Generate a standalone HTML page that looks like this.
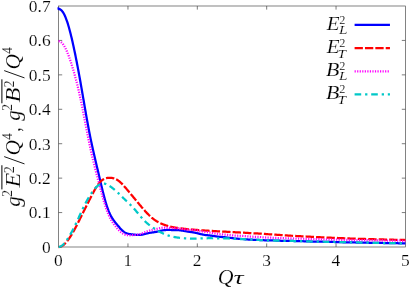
<!DOCTYPE html>
<html><head><meta charset="utf-8"><title>plot</title>
<style>
html,body{margin:0;padding:0;background:#fff;}
body{width:409px;height:289px;overflow:hidden;font-family:"Liberation Serif",serif;}
svg{display:block;position:absolute;left:0;top:0;will-change:transform;}
.tk{font-family:"Liberation Serif",serif;font-size:17.6px;fill:#000;stroke:#fff;stroke-width:0.16px;}
.it{font-family:"Liberation Serif",serif;font-style:italic;fill:#000;stroke:#fff;stroke-width:0.16px;}
.rm{font-family:"Liberation Serif",serif;fill:#000;stroke:#fff;stroke-width:0.16px;}
.cv{fill:none;stroke-width:2.25;stroke-linejoin:round;}
</style></head>
<body>
<svg width="409" height="289" viewBox="0 0 409 289">
<rect x="0" y="0" width="409" height="289" fill="#fff"/>
<!-- frame -->
<rect x="58.6" y="6.0" width="346.80" height="241.00" fill="none" stroke="#404040" stroke-width="0.65"/>
<path d="M127.96,247.0 v-3.6 M127.96,6.0 v3.6 M197.32,247.0 v-3.6 M197.32,6.0 v3.6 M266.68,247.0 v-3.6 M266.68,6.0 v3.6 M336.04,247.0 v-3.6 M336.04,6.0 v3.6 M58.6,212.57 h3.6 M405.4,212.57 h-3.6 M58.6,178.14 h3.6 M405.4,178.14 h-3.6 M58.6,143.71 h3.6 M405.4,143.71 h-3.6 M58.6,109.29 h3.6 M405.4,109.29 h-3.6 M58.6,74.86 h3.6 M405.4,74.86 h-3.6 M58.6,40.43 h3.6 M405.4,40.43 h-3.6" stroke="#444" stroke-width="0.7" fill="none"/>
<!-- tick labels -->
<text transform="translate(50.6,252.90) scale(0.99,1)" text-anchor="end" class="tk">0</text><text transform="translate(50.6,218.47) scale(0.99,1)" text-anchor="end" class="tk">0.1</text><text transform="translate(50.6,184.04) scale(0.99,1)" text-anchor="end" class="tk">0.2</text><text transform="translate(50.6,149.61) scale(0.99,1)" text-anchor="end" class="tk">0.3</text><text transform="translate(50.6,115.19) scale(0.99,1)" text-anchor="end" class="tk">0.4</text><text transform="translate(50.6,80.76) scale(0.99,1)" text-anchor="end" class="tk">0.5</text><text transform="translate(50.6,46.33) scale(0.99,1)" text-anchor="end" class="tk">0.6</text><text transform="translate(50.6,11.90) scale(0.99,1)" text-anchor="end" class="tk">0.7</text>
<text transform="translate(58.45,265.8) scale(0.99,1)" text-anchor="middle" class="tk">0</text><text transform="translate(127.81,265.8) scale(0.99,1)" text-anchor="middle" class="tk">1</text><text transform="translate(197.17,265.8) scale(0.99,1)" text-anchor="middle" class="tk">2</text><text transform="translate(266.53,265.8) scale(0.99,1)" text-anchor="middle" class="tk">3</text><text transform="translate(335.89,265.8) scale(0.99,1)" text-anchor="middle" class="tk">4</text><text transform="translate(405.25,265.8) scale(0.99,1)" text-anchor="middle" class="tk">5</text>
<!-- curves -->
<path class="cv" d="M57.5,8.4 L58.6,8.4 58.60,9.01 L59.06,9.04 L59.53,9.15 L59.99,9.33 L60.46,9.59 L60.92,9.92 L61.38,10.32 L61.85,10.80 L62.31,11.35 L62.77,11.98 L63.24,12.69 L63.70,13.47 L64.17,14.33 L64.63,15.27 L65.09,16.28 L65.56,17.37 L66.02,18.54 L66.48,19.78 L66.95,21.10 L67.41,22.48 L67.88,23.94 L68.34,25.47 L68.80,27.06 L69.27,28.71 L69.73,30.43 L70.20,32.20 L70.66,34.03 L71.12,35.91 L71.59,37.85 L72.05,39.83 L72.51,41.85 L72.98,43.92 L73.44,46.03 L73.91,48.18 L74.37,50.36 L74.83,52.59 L75.30,54.84 L75.76,57.14 L76.22,59.46 L76.69,61.82 L77.15,64.22 L77.62,66.64 L78.08,69.10 L78.54,71.58 L79.01,74.10 L79.47,76.65 L79.94,79.22 L80.40,81.82 L80.86,84.45 L81.33,87.09 L81.79,89.76 L82.25,92.44 L82.72,95.13 L83.18,97.83 L83.65,100.54 L84.11,103.24 L84.57,105.94 L85.04,108.63 L85.50,111.30 L85.96,113.96 L86.43,116.59 L86.89,119.19 L87.36,121.77 L87.82,124.30 L88.28,126.80 L88.75,129.26 L89.21,131.67 L89.67,134.04 L90.14,136.36 L90.60,138.65 L91.07,140.89 L91.53,143.08 L91.99,145.24 L92.46,147.36 L92.92,149.45 L93.39,151.51 L93.85,153.55 L94.31,155.56 L94.78,157.56 L95.24,159.54 L95.70,161.52 L96.17,163.49 L96.63,165.45 L97.10,167.41 L97.56,169.38 L98.02,171.35 L98.49,173.32 L98.95,175.29 L99.41,177.27 L99.88,179.25 L100.34,181.22 L100.81,183.18 L101.27,185.14 L101.73,187.08 L102.20,189.00 L102.66,190.90 L103.13,192.77 L103.59,194.60 L104.05,196.39 L104.52,198.13 L104.98,199.83 L105.44,201.47 L105.91,203.05 L106.37,204.56 L106.84,206.01 L107.30,207.40 L107.76,208.71 L108.23,209.96 L108.69,211.15 L109.15,212.26 L109.62,213.31 L110.08,214.30 L110.55,215.23 L111.01,216.11 L111.47,216.94 L111.94,217.73 L112.40,218.47 L112.87,219.18 L113.33,219.86 L113.79,220.51 L114.26,221.14 L114.72,221.75 L115.18,222.34 L115.65,222.93 L116.11,223.50 L116.58,224.07 L117.04,224.63 L117.50,225.19 L117.97,225.74 L118.43,226.29 L118.89,226.83 L119.36,227.36 L119.82,227.88 L120.29,228.39 L120.75,228.89 L121.21,229.37 L121.68,229.83 L122.14,230.27 L122.61,230.69 L123.07,231.09 L123.53,231.46 L124.00,231.81 L124.46,232.13 L124.92,232.42 L125.39,232.69 L125.85,232.93 L126.32,233.14 L126.78,233.33 L127.24,233.50 L127.71,233.64 L128.17,233.77 L128.63,233.88 L129.10,233.98 L129.56,234.06 L130.03,234.14 L130.49,234.20 L130.95,234.27 L131.42,234.32 L131.88,234.38 L132.35,234.43 L132.81,234.48 L133.27,234.53 L133.74,234.58 L134.20,234.63 L134.66,234.68 L135.13,234.73 L135.59,234.78 L136.06,234.82 L136.52,234.86 L136.98,234.89 L137.45,234.92 L137.91,234.94 L138.37,234.95 L138.84,234.95 L139.30,234.94 L139.77,234.91 L140.23,234.88 L140.69,234.83 L141.16,234.78 L141.62,234.71 L142.08,234.63 L142.55,234.54 L143.01,234.44 L143.48,234.34 L143.94,234.23 L144.40,234.11 L144.87,234.00 L145.33,233.88 L145.80,233.76 L146.26,233.64 L146.72,233.52 L147.19,233.41 L147.65,233.30 L148.11,233.20 L148.58,233.10 L149.04,233.01 L149.51,232.92 L149.97,232.84 L150.43,232.76 L150.90,232.69 L151.36,232.61 L151.82,232.55 L152.29,232.48 L152.75,232.41 L153.22,232.35 L153.68,232.28 L154.14,232.20 L154.61,232.13 L155.07,232.05 L155.54,231.97 L156.00,231.88 L156.46,231.78 L156.93,231.68 L157.39,231.58 L157.85,231.48 L158.32,231.37 L158.78,231.26 L159.25,231.14 L159.71,231.03 L160.17,230.92 L160.64,230.81 L161.10,230.70 L161.56,230.60 L162.03,230.51 L162.49,230.42 L162.96,230.33 L163.42,230.26 L163.88,230.19 L164.35,230.14 L164.81,230.09 L165.28,230.05 L165.74,230.02 L166.20,229.99 L166.67,229.97 L167.13,229.96 L167.59,229.96 L168.06,229.96 L168.52,229.96 L168.99,229.97 L169.45,229.97 L169.91,229.98 L170.38,229.99 L170.84,230.00 L171.30,230.01 L171.77,230.02 L172.23,230.03 L172.70,230.03 L173.16,230.04 L173.62,230.04 L174.09,230.04 L174.55,230.05 L175.02,230.05 L175.48,230.05 L175.94,230.06 L176.41,230.07 L176.87,230.09 L177.33,230.11 L177.80,230.13 L178.26,230.16 L178.73,230.19 L179.19,230.23 L179.65,230.28 L180.12,230.33 L180.58,230.39 L181.04,230.45 L181.51,230.52 L181.97,230.59 L182.44,230.67 L182.90,230.75 L183.36,230.84 L183.83,230.92 L184.29,231.01 L184.76,231.09 L185.22,231.18 L185.68,231.26 L186.15,231.34 L186.61,231.42 L187.07,231.50 L187.54,231.58 L188.00,231.65 L188.47,231.72 L188.93,231.78 L189.39,231.85 L189.86,231.91 L190.32,231.98 L190.78,232.04 L191.25,232.10 L191.71,232.17 L192.18,232.23 L192.64,232.30 L193.10,232.37 L193.57,232.45 L194.03,232.53 L194.50,232.62 L194.96,232.71 L195.42,232.80 L195.89,232.90 L196.35,233.00 L196.81,233.11 L197.28,233.22 L197.74,233.34 L198.21,233.46 L198.67,233.57 L199.13,233.69 L199.60,233.81 L200.06,233.93 L200.52,234.04 L200.99,234.16 L201.45,234.27 L201.92,234.37 L202.38,234.47 L202.84,234.56 L203.31,234.65 L203.77,234.74 L204.23,234.82 L204.70,234.89 L205.16,234.96 L205.63,235.02 L206.09,235.08 L206.55,235.14 L207.02,235.19 L207.48,235.24 L207.95,235.29 L208.41,235.34 L208.87,235.39 L209.34,235.44 L209.80,235.49 L210.26,235.54 L210.73,235.59 L211.19,235.65 L212.82,235.87 L214.46,236.12 L216.09,236.37 L217.72,236.60 L219.35,236.80 L220.98,236.96 L222.62,237.09 L224.25,237.22 L225.88,237.37 L227.51,237.54 L229.14,237.75 L230.78,237.97 L232.41,238.20 L234.04,238.40 L235.67,238.56 L237.30,238.69 L238.94,238.80 L240.57,238.90 L242.20,239.00 L243.83,239.13 L245.46,239.26 L247.10,239.40 L248.73,239.53 L250.36,239.63 L251.99,239.70 L253.62,239.76 L255.26,239.80 L256.89,239.86 L258.52,239.93 L260.15,240.02 L261.78,240.12 L263.42,240.22 L265.05,240.29 L266.68,240.35 L268.31,240.38 L269.94,240.39 L271.58,240.41 L273.21,240.45 L274.84,240.50 L276.47,240.57 L278.10,240.65 L279.74,240.72 L281.37,240.77 L283.00,240.79 L284.63,240.80 L286.26,240.81 L287.90,240.82 L289.53,240.86 L291.16,240.91 L292.79,240.98 L294.42,241.04 L296.06,241.11 L297.69,241.15 L299.32,241.18 L300.95,241.20 L302.58,241.23 L304.22,241.26 L305.85,241.31 L307.48,241.38 L309.11,241.45 L310.74,241.51 L312.38,241.56 L314.01,241.60 L315.64,241.62 L317.27,241.63 L318.90,241.65 L320.54,241.69 L322.17,241.74 L323.80,241.79 L325.43,241.85 L327.06,241.90 L328.70,241.94 L330.33,241.96 L331.96,241.98 L333.59,241.99 L335.22,242.02 L336.86,242.06 L338.49,242.11 L340.12,242.17 L341.75,242.22 L343.38,242.27 L345.02,242.30 L346.65,242.31 L348.28,242.33 L349.91,242.35 L351.54,242.38 L353.18,242.43 L354.81,242.48 L356.44,242.53 L358.07,242.58 L359.70,242.61 L361.34,242.63 L362.97,242.65 L364.60,242.67 L366.23,242.69 L367.86,242.73 L369.50,242.77 L371.13,242.82 L372.76,242.87 L374.39,242.90 L376.02,242.92 L377.66,242.94 L379.29,242.95 L380.92,242.96 L382.55,242.99 L384.18,243.02 L385.82,243.07 L387.45,243.11 L389.08,243.15 L390.71,243.17 L392.34,243.19 L393.98,243.20 L395.61,243.21 L397.24,243.23 L398.87,243.26 L400.50,243.30 L402.14,243.34 L403.77,243.37 L405.40,243.40" stroke="#0000ff"/>
<path class="cv" d="M58.60,247.00 L58.83,247.00 L59.06,247.00 L59.29,247.00 L59.53,246.99 L59.76,246.95 L59.99,246.89 L60.22,246.83 L60.45,246.76 L60.68,246.68 L60.92,246.59 L61.15,246.49 L61.38,246.38 L61.61,246.26 L61.84,246.14 L62.07,246.00 L62.30,245.86 L62.54,245.70 L62.77,245.54 L63.00,245.38 L63.23,245.20 L63.46,245.01 L63.69,244.82 L63.93,244.62 L64.16,244.42 L64.39,244.20 L64.62,243.98 L64.85,243.75 L65.08,243.52 L65.31,243.28 L65.55,243.03 L65.78,242.78 L66.01,242.51 L66.24,242.25 L66.47,241.98 L66.70,241.70 L66.94,241.42 L67.17,241.13 L67.40,240.83 L67.63,240.53 L67.86,240.23 L68.09,239.92 L68.33,239.60 L68.56,239.28 L68.79,238.96 L69.02,238.63 L69.25,238.29 L69.48,237.95 L69.71,237.61 L69.95,237.26 L70.18,236.91 L70.41,236.55 L70.64,236.19 L70.87,235.83 L71.10,235.46 L71.34,235.08 L71.57,234.70 L71.80,234.32 L72.03,233.94 L72.26,233.55 L72.49,233.15 L72.72,232.75 L72.96,232.35 L73.19,231.95 L73.42,231.54 L73.65,231.13 L73.88,230.71 L74.11,230.29 L74.35,229.87 L74.58,229.44 L74.81,229.01 L75.04,228.58 L75.27,228.15 L75.50,227.71 L75.73,227.27 L75.97,226.82 L76.20,226.38 L76.43,225.93 L76.66,225.48 L76.89,225.03 L77.12,224.57 L77.36,224.12 L77.59,223.66 L77.82,223.20 L78.05,222.74 L78.28,222.28 L78.51,221.81 L78.74,221.35 L78.98,220.88 L79.21,220.42 L79.44,219.95 L79.67,219.48 L79.90,219.02 L80.13,218.55 L80.37,218.08 L80.60,217.61 L80.83,217.14 L81.06,216.68 L81.29,216.21 L81.52,215.74 L81.76,215.27 L81.99,214.80 L82.22,214.34 L82.45,213.87 L82.68,213.40 L82.91,212.94 L83.14,212.47 L83.38,212.01 L83.61,211.55 L83.84,211.08 L84.07,210.62 L84.30,210.16 L84.53,209.69 L84.77,209.23 L85.00,208.77 L85.23,208.31 L85.46,207.85 L85.69,207.39 L85.92,206.93 L86.15,206.47 L86.39,206.01 L86.62,205.55 L86.85,205.10 L87.08,204.64 L87.31,204.18 L87.54,203.72 L87.78,203.26 L88.01,202.81 L88.24,202.35 L88.47,201.89 L88.70,201.43 L88.93,200.98 L89.16,200.52 L89.40,200.06 L89.63,199.61 L89.86,199.15 L90.09,198.69 L90.32,198.24 L90.55,197.78 L90.79,197.33 L91.02,196.88 L91.25,196.43 L91.48,195.98 L91.71,195.53 L91.94,195.08 L92.17,194.63 L92.41,194.19 L92.64,193.75 L92.87,193.31 L93.10,192.87 L93.33,192.43 L93.56,192.00 L93.80,191.57 L94.03,191.15 L94.26,190.73 L94.49,190.31 L94.72,189.90 L94.95,189.49 L95.19,189.09 L95.42,188.69 L95.65,188.29 L95.88,187.91 L96.11,187.52 L96.34,187.15 L96.57,186.78 L96.81,186.41 L97.04,186.06 L97.27,185.71 L97.50,185.36 L97.73,185.03 L97.96,184.70 L98.20,184.38 L98.43,184.07 L98.66,183.76 L98.89,183.47 L99.12,183.18 L99.35,182.90 L99.58,182.63 L99.82,182.36 L100.05,182.11 L100.28,181.86 L100.51,181.62 L100.74,181.39 L100.97,181.17 L101.21,180.96 L101.44,180.76 L101.67,180.56 L101.90,180.37 L102.13,180.19 L102.36,180.02 L102.59,179.85 L102.83,179.70 L103.06,179.55 L103.29,179.41 L103.52,179.27 L103.75,179.15 L103.98,179.03 L104.09,178.97" stroke="#ff0000" stroke-dasharray="8.58 2.13"/>
<path class="cv" d="M104.09,178.97 L104.22,178.91 L104.45,178.81 L104.68,178.71 L104.91,178.61 L105.14,178.52 L105.37,178.44 L105.60,178.37 L105.84,178.29 L106.07,178.23 L106.30,178.17 L106.53,178.11 L106.76,178.06 L106.99,178.02 L107.23,177.97 L107.46,177.94 L107.69,177.90 L107.92,177.87 L108.15,177.85 L108.38,177.83 L108.61,177.81 L108.85,177.80 L109.08,177.79 L109.31,177.78 L109.54,177.78 L109.77,177.78 L110.00,177.78 L110.24,177.79 L110.47,177.80 L110.70,177.82 L110.93,177.83 L111.16,177.85 L111.39,177.88 L111.63,177.91 L111.86,177.94 L112.09,177.98 L112.32,178.02 L112.55,178.06 L112.78,178.11 L113.01,178.16 L113.25,178.22 L113.48,178.28 L113.71,178.34 L113.94,178.41 L114.17,178.48 L114.40,178.56 L114.64,178.64 L114.87,178.73 L115.10,178.82 L115.33,178.92 L115.56,179.02 L115.79,179.13 L116.02,179.24 L116.26,179.35 L116.49,179.48 L116.72,179.60 L116.95,179.73 L117.18,179.87 L117.41,180.01 L117.65,180.16 L117.88,180.31 L118.11,180.47 L118.34,180.64 L118.57,180.80 L118.80,180.98 L119.03,181.16 L119.27,181.34 L119.50,181.53 L119.73,181.72 L119.96,181.92 L120.19,182.12 L120.42,182.33 L120.66,182.54 L120.89,182.75 L121.12,182.97 L121.35,183.20 L121.58,183.42 L121.81,183.65 L122.04,183.89 L122.28,184.13 L122.51,184.37 L122.74,184.61 L122.97,184.86 L123.20,185.11 L123.43,185.36 L123.67,185.62 L123.90,185.87 L124.13,186.13 L124.36,186.39 L124.59,186.66 L124.82,186.92 L125.06,187.19 L125.29,187.46 L125.52,187.73 L125.75,188.00 L125.98,188.27 L126.21,188.54 L126.44,188.82 L126.68,189.09 L126.91,189.37 L127.14,189.64 L127.37,189.92 L127.60,190.20 L127.83,190.47 L128.07,190.75 L128.30,191.03 L128.53,191.31 L128.76,191.59 L128.99,191.87 L129.22,192.14 L129.45,192.42 L129.69,192.70 L129.92,192.98 L130.15,193.26 L130.38,193.54 L130.61,193.82 L130.84,194.10 L131.08,194.38 L131.31,194.65 L131.54,194.93 L131.77,195.21 L132.00,195.49 L132.23,195.77 L132.46,196.05 L132.70,196.33 L132.93,196.61 L133.16,196.89 L133.39,197.17 L133.62,197.45 L133.85,197.72 L134.09,198.00 L134.32,198.28 L134.55,198.56 L134.78,198.84 L135.01,199.12 L135.24,199.40 L135.47,199.68 L135.71,199.96 L135.94,200.24 L136.17,200.52 L136.40,200.80 L136.63,201.08 L136.86,201.36 L137.10,201.64 L137.33,201.92 L137.56,202.20 L137.79,202.48 L138.02,202.75 L138.25,203.03 L138.49,203.31 L138.72,203.59 L138.95,203.87 L139.18,204.15 L139.41,204.42 L139.64,204.70 L139.87,204.98 L140.11,205.25 L140.34,205.53 L140.57,205.81 L140.80,206.08 L141.03,206.35 L141.26,206.63 L141.50,206.90 L141.73,207.17 L141.96,207.44 L142.19,207.71 L142.42,207.98 L142.65,208.25 L142.88,208.52 L143.12,208.79 L143.35,209.05 L143.58,209.32 L143.81,209.58 L144.04,209.84 L144.27,210.10 L144.51,210.36 L144.74,210.62 L144.97,210.88 L145.20,211.14 L145.43,211.39 L145.66,211.64 L145.89,211.90 L146.13,212.15 L146.36,212.39 L146.59,212.64 L146.82,212.89 L147.05,213.13 L147.28,213.37 L147.52,213.61 L147.75,213.85 L147.98,214.08 L148.21,214.32 L148.44,214.55 L148.67,214.78 L148.90,215.01 L149.14,215.23 L149.37,215.46 L149.60,215.68 L149.83,215.90 L150.06,216.12 L150.29,216.33 L150.53,216.54 L150.76,216.75 L150.99,216.96 L151.22,217.16 L151.45,217.37 L151.68,217.57 L151.91,217.76 L152.15,217.96 L152.38,218.15 L152.61,218.34 L152.84,218.53 L153.07,218.71 L153.30,218.89 L153.54,219.07 L153.77,219.25 L154.00,219.42 L154.23,219.59 L154.46,219.76 L154.69,219.92 L154.93,220.09 L155.16,220.25 L155.39,220.40 L155.62,220.56 L155.85,220.71 L156.08,220.86 L156.31,221.01 L156.55,221.15 L156.78,221.29 L157.01,221.43 L157.24,221.57 L157.47,221.70 L157.70,221.83 L157.94,221.96 L158.17,222.09 L158.40,222.21 L158.63,222.34 L158.86,222.46 L159.09,222.58 L159.32,222.69 L159.56,222.81 L159.79,222.92 L160.02,223.03 L160.25,223.14 L160.48,223.24 L160.71,223.35 L160.95,223.45 L161.18,223.56 L161.41,223.66 L161.64,223.75 L161.87,223.85 L162.10,223.95 L162.33,224.04 L162.57,224.14 L162.80,224.23 L163.03,224.32 L163.26,224.41 L163.49,224.49 L163.72,224.58 L163.96,224.67 L164.19,224.75 L164.42,224.84 L164.65,224.92 L164.88,225.00 L165.11,225.08 L165.34,225.16 L165.58,225.24 L165.81,225.31 L166.04,225.39 L166.27,225.46 L166.50,225.54 L166.73,225.61 L166.97,225.68 L167.20,225.76 L167.43,225.83 L167.66,225.89 L167.89,225.96 L168.12,226.03 L168.36,226.10 L168.59,226.16 L168.82,226.22 L169.05,226.29 L169.28,226.35 L169.51,226.41 L169.74,226.47 L169.98,226.53 L170.21,226.59 L170.44,226.64 L170.67,226.70 L170.90,226.75 L171.13,226.81 L171.37,226.86 L171.60,226.91 L171.83,226.96 L172.06,227.01 L172.29,227.06 L172.52,227.11 L172.75,227.15 L172.99,227.20 L173.22,227.25 L173.45,227.29 L173.68,227.33 L173.91,227.38 L174.14,227.42 L174.38,227.46 L174.61,227.50 L174.84,227.54 L175.07,227.58 L175.30,227.61 L175.53,227.65 L175.76,227.69 L176.00,227.72 L176.23,227.76 L176.46,227.79 L176.69,227.83 L176.92,227.86 L177.15,227.89 L177.39,227.93 L177.62,227.96 L177.85,227.99 L178.08,228.03 L178.31,228.06 L178.54,228.09 L178.77,228.12 L179.01,228.15 L179.24,228.18 L179.47,228.21 L179.70,228.24 L179.93,228.27 L180.16,228.30 L180.40,228.33 L180.63,228.36 L180.86,228.39 L181.09,228.42 L181.32,228.45 L181.55,228.48 L181.79,228.51 L182.02,228.53 L182.25,228.56 L182.48,228.59 L182.71,228.62 L182.94,228.65 L183.17,228.68 L183.41,228.70 L183.64,228.73 L183.87,228.76 L184.10,228.78 L184.33,228.81 L184.56,228.84 L184.80,228.86 L185.03,228.89 L185.26,228.92 L185.49,228.94 L185.72,228.97 L185.95,228.99 L186.18,229.02 L186.42,229.04 L186.65,229.06 L186.88,229.09 L187.11,229.11 L187.34,229.14 L187.57,229.16 L187.81,229.18 L188.04,229.20 L188.27,229.23 L188.50,229.25 L188.73,229.27 L188.96,229.29 L189.19,229.31 L189.43,229.33 L189.66,229.35 L189.89,229.37 L190.12,229.39 L190.35,229.41 L190.58,229.43 L190.82,229.45 L191.05,229.47 L191.28,229.49 L191.51,229.51 L191.74,229.53 L191.97,229.55 L192.20,229.56 L192.44,229.58 L192.67,229.60 L192.90,229.62 L193.13,229.64 L193.36,229.66 L193.59,229.67 L193.83,229.69 L194.06,229.71 L194.29,229.73 L194.52,229.75 L194.75,229.76 L194.98,229.78 L195.21,229.80 L195.45,229.82 L195.68,229.84 L195.91,229.85 L196.14,229.87 L196.37,229.89 L196.60,229.91 L196.84,229.93 L197.07,229.94 L197.30,229.96 L197.53,229.98 L197.76,230.00 L197.99,230.02 L198.23,230.04 L198.46,230.05 L198.69,230.07 L198.92,230.09 L199.15,230.11 L199.38,230.12 L199.61,230.14 L199.85,230.16 L200.08,230.18 L200.31,230.19 L200.54,230.21 L200.77,230.23 L201.00,230.25 L201.24,230.26 L201.47,230.28 L201.70,230.30 L201.93,230.31 L202.16,230.33 L202.39,230.34 L202.62,230.36 L202.86,230.38 L203.09,230.39 L203.32,230.41 L203.55,230.42 L203.78,230.44 L204.01,230.45 L204.25,230.47 L204.48,230.48 L204.71,230.50 L204.94,230.51 L205.17,230.53 L205.40,230.54 L205.63,230.56 L205.87,230.57 L206.10,230.58 L206.33,230.60 L206.56,230.61 L206.79,230.63 L207.02,230.64 L207.26,230.65 L207.49,230.67 L207.72,230.68 L207.95,230.70 L208.18,230.71 L208.41,230.73 L208.64,230.74 L208.88,230.75 L209.11,230.77 L209.34,230.78 L209.57,230.80 L209.80,230.81 L210.03,230.83 L210.27,230.84 L210.50,230.86 L210.73,230.87 L210.96,230.89 L211.19,230.90 L212.41,230.98 L213.63,231.06 L214.86,231.14 L216.08,231.21 L217.30,231.28 L218.52,231.35 L219.74,231.41 L220.96,231.47 L222.18,231.53 L223.41,231.59 L224.63,231.65 L225.85,231.72 L227.07,231.79 L228.29,231.87 L229.51,231.95 L230.73,232.02 L231.96,232.10 L233.18,232.16 L234.40,232.23 L235.62,232.28 L236.84,232.34 L238.06,232.39 L239.28,232.45 L240.51,232.51 L241.73,232.57 L242.95,232.64 L244.17,232.72 L245.39,232.80 L246.61,232.88 L247.84,232.97 L249.06,233.04 L250.28,233.11 L251.50,233.18 L252.72,233.24 L253.94,233.29 L255.16,233.35 L256.39,233.41 L257.61,233.48 L258.83,233.55 L260.05,233.63 L261.27,233.71 L262.49,233.80 L263.71,233.89 L264.94,233.99 L266.16,234.08 L267.38,234.16 L268.60,234.25 L269.82,234.32 L271.04,234.40 L272.26,234.48 L273.49,234.56 L274.71,234.64 L275.93,234.72 L277.15,234.81 L278.37,234.89 L279.59,234.98 L280.81,235.07 L282.04,235.15 L283.26,235.23 L284.48,235.31 L285.70,235.38 L286.92,235.46 L288.14,235.53 L289.36,235.60 L290.59,235.68 L291.81,235.75 L293.03,235.82 L294.25,235.90 L295.47,235.97 L296.69,236.04 L297.91,236.10 L299.14,236.17 L300.36,236.23 L301.58,236.29 L302.80,236.35 L304.02,236.41 L305.24,236.47 L306.46,236.53 L307.69,236.59 L308.91,236.66 L310.13,236.72 L311.35,236.78 L312.57,236.85 L313.79,236.91 L315.01,236.96 L316.24,237.02 L317.46,237.08 L318.68,237.13 L319.90,237.19 L321.12,237.25 L322.34,237.31 L323.56,237.37 L324.79,237.43 L326.01,237.49 L327.23,237.55 L328.45,237.61 L329.67,237.67 L330.89,237.73 L332.11,237.78 L333.34,237.83 L334.56,237.88 L335.78,237.93 L337.00,237.98 L338.22,238.04 L339.44,238.09 L340.66,238.14 L341.89,238.19 L343.11,238.24 L344.33,238.29 L345.55,238.34 L346.77,238.39 L347.99,238.43 L349.21,238.47 L350.44,238.51 L351.66,238.55 L352.88,238.59 L354.10,238.63 L355.32,238.67 L356.54,238.71 L357.76,238.75 L358.99,238.79 L360.21,238.83 L361.43,238.87 L362.65,238.90 L363.87,238.94 L365.09,238.98 L366.31,239.02 L367.54,239.05 L368.76,239.09 L369.98,239.13 L371.20,239.16 L372.42,239.20 L373.64,239.23 L374.86,239.26 L376.09,239.29 L377.31,239.32 L378.53,239.35 L379.75,239.38 L380.97,239.41 L382.19,239.45 L383.41,239.48 L384.64,239.51 L385.86,239.55 L387.08,239.58 L388.30,239.61 L389.52,239.64 L390.74,239.67 L391.96,239.70 L393.19,239.73 L394.41,239.75 L395.63,239.78 L396.85,239.81 L398.07,239.84 L399.29,239.87 L400.51,239.89 L401.74,239.92 L402.96,239.95 L404.18,239.98 L405.40,240.01" stroke="#ff0000" stroke-dasharray="8.37 2.08" stroke-dashoffset="8.37"/>
<path class="cv" d="M58.60,41.23 L59.06,41.26 L59.53,41.36 L59.99,41.53 L60.46,41.76 L60.92,42.05 L61.38,42.41 L61.85,42.84 L62.31,43.33 L62.77,43.88 L63.24,44.50 L63.70,45.17 L64.17,45.91 L64.63,46.71 L65.09,47.56 L65.56,48.46 L66.02,49.43 L66.48,50.44 L66.95,51.50 L67.41,52.61 L67.88,53.76 L68.34,54.96 L68.80,56.20 L69.27,57.48 L69.73,58.80 L70.20,60.15 L70.66,61.53 L71.12,62.95 L71.59,64.40 L72.05,65.88 L72.51,67.39 L72.98,68.94 L73.44,70.51 L73.91,72.11 L74.37,73.75 L74.83,75.41 L75.30,77.12 L75.76,78.85 L76.22,80.63 L76.69,82.44 L77.15,84.29 L77.62,86.18 L78.08,88.11 L78.54,90.09 L79.01,92.11 L79.47,94.17 L79.94,96.28 L80.40,98.42 L80.86,100.61 L81.33,102.83 L81.79,105.10 L82.25,107.39 L82.72,109.72 L83.18,112.07 L83.65,114.44 L84.11,116.84 L84.57,119.24 L85.04,121.65 L85.50,124.06 L85.96,126.47 L86.43,128.87 L86.89,131.25 L87.36,133.62 L87.82,135.96 L88.28,138.28 L88.75,140.57 L89.21,142.82 L89.67,145.04 L90.14,147.22 L90.60,149.36 L91.07,151.46 L91.53,153.53 L91.99,155.56 L92.46,157.55 L92.92,159.51 L93.39,161.44 L93.85,163.34 L94.31,165.22 L94.78,167.08 L95.24,168.91 L95.70,170.73 L96.17,172.54 L96.63,174.34 L97.10,176.13 L97.56,177.91 L98.02,179.69 L98.49,181.46 L98.95,183.23 L99.41,184.99 L99.88,186.75 L100.34,188.50 L100.81,190.24 L101.27,191.97 L101.73,193.68 L102.20,195.37 L102.66,197.04 L103.13,198.68 L103.59,200.29 L104.05,201.87 L104.52,203.41 L104.98,204.90 L105.44,206.35 L105.91,207.75 L106.37,209.10 L106.84,210.40 L107.30,211.64 L107.76,212.84 L108.23,213.97 L108.69,215.06 L109.15,216.09 L109.62,217.07 L110.08,218.00 L110.55,218.89 L111.01,219.73 L111.47,220.53 L111.94,221.30 L112.40,222.03 L112.87,222.73 L113.33,223.41 L113.79,224.06 L114.26,224.69 L114.72,225.30 L115.18,225.89 L115.65,226.47 L116.11,227.04 L116.58,227.59 L117.04,228.14 L117.50,228.66 L117.97,229.18 L118.43,229.68 L118.89,230.17 L119.36,230.64 L119.82,231.10 L120.29,231.54 L120.75,231.95 L121.21,232.35 L121.68,232.72 L122.14,233.06 L122.61,233.39 L123.07,233.68 L123.53,233.95 L124.00,234.19 L124.46,234.40 L124.92,234.58 L125.39,234.74 L125.85,234.88 L126.32,234.99 L126.78,235.08 L127.24,235.15 L127.71,235.20 L128.17,235.24 L128.63,235.26 L129.10,235.27 L129.56,235.27 L130.03,235.27 L130.49,235.25 L130.95,235.23 L131.42,235.21 L131.88,235.19 L132.35,235.16 L132.81,235.14 L133.27,235.11 L133.74,235.08 L134.20,235.05 L134.66,235.01 L135.13,234.98 L135.59,234.93 L136.06,234.89 L136.52,234.83 L136.98,234.77 L137.45,234.70 L137.91,234.62 L138.37,234.53 L138.84,234.43 L139.30,234.31 L139.77,234.19 L140.23,234.05 L140.69,233.91 L141.16,233.75 L141.62,233.59 L142.08,233.41 L142.55,233.23 L143.01,233.05 L143.48,232.86 L143.94,232.66 L144.40,232.47 L144.87,232.28 L145.33,232.09 L145.80,231.90 L146.26,231.72 L146.72,231.54 L147.19,231.37 L147.65,231.20 L148.11,231.05 L148.58,230.90 L149.04,230.76 L149.51,230.63 L149.97,230.50 L150.43,230.38 L150.90,230.27 L151.36,230.16 L151.82,230.06 L152.29,229.95 L152.75,229.85 L153.22,229.75 L153.68,229.65 L154.14,229.55 L154.61,229.45 L155.07,229.34 L155.54,229.23 L156.00,229.12 L156.46,229.01 L156.93,228.89 L157.39,228.78 L157.85,228.66 L158.32,228.54 L158.78,228.43 L159.25,228.32 L159.71,228.21 L160.17,228.10 L160.64,228.00 L161.10,227.91 L161.56,227.83 L162.03,227.75 L162.49,227.69 L162.96,227.63 L163.42,227.59 L163.88,227.55 L164.35,227.53 L164.81,227.51 L165.28,227.51 L165.74,227.52 L166.20,227.53 L166.67,227.55 L167.13,227.58 L167.59,227.61 L168.06,227.65 L168.52,227.69 L168.99,227.74 L169.45,227.78 L169.91,227.82 L170.38,227.87 L170.84,227.91 L171.30,227.95 L171.77,227.99 L172.23,228.03 L172.70,228.06 L173.16,228.09 L173.62,228.12 L174.09,228.15 L174.55,228.17 L175.02,228.20 L175.48,228.23 L175.94,228.25 L176.41,228.28 L176.87,228.32 L177.33,228.35 L177.80,228.39 L178.26,228.43 L178.73,228.48 L179.19,228.53 L179.65,228.58 L180.12,228.64 L180.58,228.71 L181.04,228.77 L181.51,228.84 L181.97,228.91 L182.44,228.98 L182.90,229.06 L183.36,229.13 L183.83,229.20 L184.29,229.27 L184.76,229.34 L185.22,229.40 L185.68,229.46 L186.15,229.52 L186.61,229.57 L187.07,229.62 L187.54,229.66 L188.00,229.69 L188.47,229.72 L188.93,229.75 L189.39,229.78 L189.86,229.80 L190.32,229.82 L190.78,229.84 L191.25,229.86 L191.71,229.88 L192.18,229.91 L192.64,229.93 L193.10,229.96 L193.57,230.00 L194.03,230.04 L194.50,230.08 L194.96,230.13 L195.42,230.19 L195.89,230.25 L196.35,230.32 L196.81,230.40 L197.28,230.48 L197.74,230.57 L198.21,230.65 L198.67,230.75 L199.13,230.84 L199.60,230.94 L200.06,231.03 L200.52,231.13 L200.99,231.22 L201.45,231.32 L201.92,231.41 L202.38,231.49 L202.84,231.58 L203.31,231.66 L203.77,231.74 L204.23,231.81 L204.70,231.88 L205.16,231.94 L205.63,232.01 L206.09,232.07 L206.55,232.13 L207.02,232.18 L207.48,232.24 L207.95,232.30 L208.41,232.35 L208.87,232.41 L209.34,232.47 L209.80,232.53 L210.26,232.60 L210.73,232.67 L211.19,232.74 L212.82,233.01 L214.46,233.32 L216.09,233.62 L217.72,233.91 L219.35,234.15 L220.98,234.34 L222.62,234.49 L224.25,234.62 L225.88,234.75 L227.51,234.90 L229.14,235.06 L230.78,235.23 L232.41,235.39 L234.04,235.53 L235.67,235.64 L237.30,235.72 L238.94,235.79 L240.57,235.86 L242.20,235.96 L243.83,236.08 L245.46,236.22 L247.10,236.37 L248.73,236.51 L250.36,236.62 L251.99,236.71 L253.62,236.77 L255.26,236.83 L256.89,236.90 L258.52,236.99 L260.15,237.10 L261.78,237.23 L263.42,237.36 L265.05,237.47 L266.68,237.56 L268.31,237.63 L269.94,237.68 L271.58,237.73 L273.21,237.79 L274.84,237.87 L276.47,237.95 L278.10,238.04 L279.74,238.12 L281.37,238.18 L283.00,238.22 L284.63,238.24 L286.26,238.25 L287.90,238.28 L289.53,238.32 L291.16,238.38 L292.79,238.46 L294.42,238.53 L296.06,238.60 L297.69,238.65 L299.32,238.68 L300.95,238.70 L302.58,238.73 L304.22,238.76 L305.85,238.82 L307.48,238.88 L309.11,238.96 L310.74,239.02 L312.38,239.08 L314.01,239.11 L315.64,239.14 L317.27,239.16 L318.90,239.18 L320.54,239.23 L322.17,239.28 L323.80,239.35 L325.43,239.41 L327.06,239.47 L328.70,239.51 L330.33,239.54 L331.96,239.56 L333.59,239.58 L335.22,239.60 L336.86,239.64 L338.49,239.69 L340.12,239.75 L341.75,239.80 L343.38,239.84 L345.02,239.86 L346.65,239.88 L348.28,239.89 L349.91,239.91 L351.54,239.94 L353.18,239.98 L354.81,240.03 L356.44,240.07 L358.07,240.12 L359.70,240.14 L361.34,240.16 L362.97,240.17 L364.60,240.18 L366.23,240.20 L367.86,240.24 L369.50,240.28 L371.13,240.32 L372.76,240.36 L374.39,240.39 L376.02,240.41 L377.66,240.42 L379.29,240.43 L380.92,240.44 L382.55,240.46 L384.18,240.49 L385.82,240.53 L387.45,240.57 L389.08,240.60 L390.71,240.62 L392.34,240.64 L393.98,240.64 L395.61,240.65 L397.24,240.66 L398.87,240.69 L400.50,240.72 L402.14,240.76 L403.77,240.79 L405.40,240.82" stroke="#ff00ff" stroke-dasharray="1.2 1.34"/>
<path class="cv" d="M58.60,246.90 L58.83,246.90 L59.06,246.88 L59.29,246.85 L59.53,246.80 L59.76,246.75 L59.99,246.68 L60.22,246.60 L60.45,246.50 L60.68,246.40 L60.92,246.28 L61.15,246.15 L61.38,246.01 L61.61,245.86 L61.84,245.70 L62.07,245.52 L62.30,245.34 L62.54,245.15 L62.77,244.94 L63.00,244.73 L63.23,244.51 L63.46,244.27 L63.69,244.03 L63.93,243.78 L64.16,243.52 L64.39,243.26 L64.62,242.98 L64.85,242.70 L65.08,242.42 L65.31,242.12 L65.55,241.82 L65.78,241.51 L66.01,241.20 L66.24,240.88 L66.47,240.55 L66.70,240.22 L66.94,239.89 L67.17,239.54 L67.40,239.20 L67.63,238.85 L67.86,238.49 L68.09,238.13 L68.33,237.77 L68.56,237.40 L68.79,237.03 L69.02,236.65 L69.25,236.27 L69.48,235.89 L69.71,235.50 L69.95,235.11 L70.18,234.71 L70.41,234.31 L70.64,233.91 L70.87,233.50 L71.10,233.09 L71.34,232.68 L71.57,232.26 L71.80,231.84 L72.03,231.41 L72.26,230.98 L72.49,230.55 L72.72,230.11 L72.96,229.67 L73.19,229.23 L73.42,228.78 L73.65,228.33 L73.88,227.88 L74.11,227.42 L74.35,226.95 L74.58,226.49 L74.81,226.02 L75.04,225.54 L75.27,225.07 L75.50,224.59 L75.73,224.10 L75.97,223.62 L76.20,223.13 L76.43,222.64 L76.66,222.14 L76.89,221.65 L77.12,221.15 L77.36,220.64 L77.59,220.14 L77.82,219.63 L78.05,219.13 L78.28,218.62 L78.51,218.11 L78.74,217.60 L78.98,217.09 L79.21,216.58 L79.44,216.06 L79.67,215.55 L79.90,215.04 L80.13,214.53 L80.37,214.02 L80.60,213.51 L80.83,213.00 L81.06,212.49 L81.29,211.99 L81.52,211.48 L81.76,210.98 L81.99,210.48 L82.22,209.98 L82.45,209.49 L82.68,209.00 L82.91,208.51 L83.14,208.03 L83.38,207.54 L83.61,207.07 L83.84,206.59 L84.07,206.12 L84.30,205.65 L84.53,205.19 L84.77,204.73 L85.00,204.28 L85.23,203.83 L85.46,203.38 L85.69,202.94 L85.92,202.50 L86.15,202.06 L86.39,201.63 L86.62,201.21 L86.85,200.79 L87.08,200.37 L87.31,199.96 L87.54,199.55 L87.78,199.14 L88.01,198.74 L88.24,198.35 L88.47,197.95 L88.70,197.56 L88.93,197.18 L89.16,196.80 L89.40,196.42 L89.63,196.05 L89.86,195.68 L90.09,195.32 L90.32,194.95 L90.55,194.60 L90.79,194.24 L91.02,193.89 L91.25,193.55 L91.48,193.21 L91.71,192.87 L91.94,192.53 L92.17,192.20 L92.41,191.88 L92.64,191.55 L92.87,191.24 L93.10,190.92 L93.33,190.61 L93.56,190.31 L93.80,190.01 L94.03,189.71 L94.26,189.42 L94.49,189.14 L94.72,188.86 L94.95,188.59 L95.19,188.32 L95.42,188.05 L95.65,187.80 L95.88,187.55 L96.11,187.30 L96.34,187.06 L96.57,186.83 L96.81,186.60 L97.04,186.39 L97.27,186.18 L97.50,185.97 L97.73,185.78 L97.96,185.59 L98.20,185.41 L98.43,185.23 L98.66,185.07 L98.89,184.91 L99.12,184.76 L99.35,184.62 L99.58,184.49 L99.82,184.36 L100.05,184.25 L100.28,184.14 L100.51,184.04 L100.74,183.95 L100.97,183.87 L101.21,183.80 L101.44,183.74 L101.67,183.68 L101.90,183.63 L102.13,183.60 L102.36,183.56 L102.59,183.54 L102.83,183.53 L103.06,183.52 L103.29,183.53 L103.52,183.54 L103.75,183.55 L103.98,183.58 L104.22,183.61 L104.45,183.65 L104.68,183.70 L104.91,183.75 L105.14,183.81 L105.37,183.87 L105.60,183.95 L105.84,184.02 L106.07,184.11 L106.24,184.18" stroke="#00c8c8" stroke-dasharray="6.92 4.09 2.41 3.98"/>
<path class="cv" d="M106.24,184.18 L106.30,184.20 L106.53,184.29 L106.76,184.39 L106.99,184.50 L107.23,184.61 L107.46,184.72 L107.69,184.84 L107.92,184.97 L108.15,185.09 L108.38,185.22 L108.61,185.36 L108.85,185.50 L109.08,185.64 L109.31,185.79 L109.54,185.93 L109.77,186.08 L110.00,186.24 L110.24,186.40 L110.47,186.56 L110.70,186.72 L110.93,186.88 L111.16,187.05 L111.39,187.22 L111.63,187.39 L111.86,187.56 L112.09,187.74 L112.32,187.92 L112.55,188.10 L112.78,188.28 L113.01,188.46 L113.25,188.65 L113.48,188.84 L113.71,189.03 L113.94,189.22 L114.17,189.41 L114.40,189.60 L114.64,189.80 L114.87,190.00 L115.10,190.20 L115.33,190.40 L115.56,190.60 L115.79,190.81 L116.02,191.01 L116.26,191.22 L116.49,191.43 L116.72,191.64 L116.95,191.85 L117.18,192.06 L117.41,192.28 L117.65,192.49 L117.88,192.71 L118.11,192.93 L118.34,193.15 L118.57,193.37 L118.80,193.59 L119.03,193.81 L119.27,194.03 L119.50,194.26 L119.73,194.48 L119.96,194.70 L120.19,194.93 L120.42,195.16 L120.66,195.38 L120.89,195.61 L121.12,195.83 L121.35,196.06 L121.58,196.29 L121.81,196.52 L122.04,196.74 L122.28,196.97 L122.51,197.20 L122.74,197.42 L122.97,197.65 L123.20,197.87 L123.43,198.10 L123.67,198.32 L123.90,198.55 L124.13,198.77 L124.36,199.00 L124.59,199.22 L124.82,199.45 L125.06,199.67 L125.29,199.89 L125.52,200.11 L125.75,200.34 L125.98,200.56 L126.21,200.78 L126.44,201.00 L126.68,201.22 L126.91,201.44 L127.14,201.66 L127.37,201.89 L127.60,202.11 L127.83,202.33 L128.07,202.55 L128.30,202.77 L128.53,203.00 L128.76,203.22 L128.99,203.45 L129.22,203.67 L129.45,203.90 L129.69,204.13 L129.92,204.35 L130.15,204.58 L130.38,204.82 L130.61,205.05 L130.84,205.28 L131.08,205.52 L131.31,205.75 L131.54,205.99 L131.77,206.23 L132.00,206.47 L132.23,206.72 L132.46,206.96 L132.70,207.21 L132.93,207.46 L133.16,207.71 L133.39,207.97 L133.62,208.22 L133.85,208.48 L134.09,208.74 L134.32,209.00 L134.55,209.26 L134.78,209.52 L135.01,209.79 L135.24,210.06 L135.47,210.33 L135.71,210.60 L135.94,210.87 L136.17,211.14 L136.40,211.42 L136.63,211.69 L136.86,211.97 L137.10,212.25 L137.33,212.52 L137.56,212.80 L137.79,213.08 L138.02,213.36 L138.25,213.64 L138.49,213.92 L138.72,214.20 L138.95,214.48 L139.18,214.76 L139.41,215.03 L139.64,215.31 L139.87,215.59 L140.11,215.86 L140.34,216.14 L140.57,216.41 L140.80,216.68 L141.03,216.95 L141.26,217.22 L141.50,217.48 L141.73,217.75 L141.96,218.01 L142.19,218.27 L142.42,218.53 L142.65,218.78 L142.88,219.04 L143.12,219.29 L143.35,219.53 L143.58,219.78 L143.81,220.02 L144.04,220.26 L144.27,220.50 L144.51,220.74 L144.74,220.97 L144.97,221.20 L145.20,221.42 L145.43,221.65 L145.66,221.87 L145.89,222.09 L146.13,222.30 L146.36,222.51 L146.59,222.73 L146.82,222.93 L147.05,223.14 L147.28,223.34 L147.52,223.54 L147.75,223.74 L147.98,223.93 L148.21,224.12 L148.44,224.31 L148.67,224.50 L148.90,224.69 L149.14,224.87 L149.37,225.05 L149.60,225.23 L149.83,225.41 L150.06,225.58 L150.29,225.76 L150.53,225.93 L150.76,226.10 L150.99,226.27 L151.22,226.44 L151.45,226.60 L151.68,226.77 L151.91,226.93 L152.15,227.09 L152.38,227.25 L152.61,227.41 L152.84,227.56 L153.07,227.72 L153.30,227.87 L153.54,228.03 L153.77,228.18 L154.00,228.33 L154.23,228.48 L154.46,228.63 L154.69,228.78 L154.93,228.93 L155.16,229.07 L155.39,229.22 L155.62,229.36 L155.85,229.51 L156.08,229.65 L156.31,229.79 L156.55,229.93 L156.78,230.07 L157.01,230.21 L157.24,230.35 L157.47,230.48 L157.70,230.62 L157.94,230.75 L158.17,230.88 L158.40,231.02 L158.63,231.15 L158.86,231.28 L159.09,231.41 L159.32,231.54 L159.56,231.66 L159.79,231.79 L160.02,231.91 L160.25,232.04 L160.48,232.16 L160.71,232.28 L160.95,232.40 L161.18,232.52 L161.41,232.64 L161.64,232.75 L161.87,232.87 L162.10,232.98 L162.33,233.10 L162.57,233.21 L162.80,233.32 L163.03,233.43 L163.26,233.53 L163.49,233.64 L163.72,233.74 L163.96,233.85 L164.19,233.95 L164.42,234.05 L164.65,234.15 L164.88,234.24 L165.11,234.34 L165.34,234.44 L165.58,234.53 L165.81,234.62 L166.04,234.71 L166.27,234.80 L166.50,234.89 L166.73,234.97 L166.97,235.06 L167.20,235.14 L167.43,235.22 L167.66,235.30 L167.89,235.38 L168.12,235.46 L168.36,235.53 L168.59,235.61 L168.82,235.68 L169.05,235.75 L169.28,235.82 L169.51,235.89 L169.74,235.95 L169.98,236.02 L170.21,236.08 L170.44,236.15 L170.67,236.21 L170.90,236.27 L171.13,236.33 L171.37,236.39 L171.60,236.44 L171.83,236.50 L172.06,236.55 L172.29,236.60 L172.52,236.65 L172.75,236.71 L172.99,236.75 L173.22,236.80 L173.45,236.85 L173.68,236.90 L173.91,236.94 L174.14,236.98 L174.38,237.03 L174.61,237.07 L174.84,237.11 L175.07,237.15 L175.30,237.19 L175.53,237.23 L175.76,237.27 L176.00,237.30 L176.23,237.34 L176.46,237.38 L176.69,237.41 L176.92,237.44 L177.15,237.48 L177.39,237.51 L177.62,237.54 L177.85,237.57 L178.08,237.61 L178.31,237.64 L178.54,237.67 L178.77,237.69 L179.01,237.72 L179.24,237.75 L179.47,237.78 L179.70,237.81 L179.93,237.83 L180.16,237.86 L180.40,237.88 L180.63,237.91 L180.86,237.93 L181.09,237.96 L181.32,237.98 L181.55,238.01 L181.79,238.03 L182.02,238.05 L182.25,238.07 L182.48,238.09 L182.71,238.11 L182.94,238.13 L183.17,238.15 L183.41,238.17 L183.64,238.19 L183.87,238.21 L184.10,238.23 L184.33,238.25 L184.56,238.26 L184.80,238.28 L185.03,238.30 L185.26,238.31 L185.49,238.33 L185.72,238.34 L185.95,238.35 L186.18,238.37 L186.42,238.38 L186.65,238.39 L186.88,238.40 L187.11,238.41 L187.34,238.43 L187.57,238.44 L187.81,238.45 L188.04,238.45 L188.27,238.46 L188.50,238.47 L188.73,238.48 L188.96,238.49 L189.19,238.49 L189.43,238.50 L189.66,238.51 L189.89,238.51 L190.12,238.52 L190.35,238.52 L190.58,238.53 L190.82,238.53 L191.05,238.53 L191.28,238.54 L191.51,238.54 L191.74,238.54 L191.97,238.54 L192.20,238.55 L192.44,238.55 L192.67,238.55 L192.90,238.55 L193.13,238.55 L193.36,238.55 L193.59,238.55 L193.83,238.55 L194.06,238.55 L194.29,238.55 L194.52,238.55 L194.75,238.54 L194.98,238.54 L195.21,238.54 L195.45,238.54 L195.68,238.54 L195.91,238.53 L196.14,238.53 L196.37,238.53 L196.60,238.52 L196.84,238.52 L197.07,238.52 L197.30,238.51 L197.53,238.51 L197.76,238.50 L197.99,238.50 L198.23,238.49 L198.46,238.49 L198.69,238.48 L198.92,238.47 L199.15,238.47 L199.38,238.46 L199.61,238.46 L199.85,238.45 L200.08,238.44 L200.31,238.44 L200.54,238.43 L200.77,238.42 L201.00,238.42 L201.24,238.41 L201.47,238.40 L201.70,238.39 L201.93,238.39 L202.16,238.38 L202.39,238.37 L202.62,238.37 L202.86,238.36 L203.09,238.35 L203.32,238.34 L203.55,238.34 L203.78,238.33 L204.01,238.32 L204.25,238.32 L204.48,238.31 L204.71,238.30 L204.94,238.30 L205.17,238.29 L205.40,238.28 L205.63,238.28 L205.87,238.27 L206.10,238.27 L206.33,238.26 L206.56,238.26 L206.79,238.26 L207.02,238.25 L207.26,238.25 L207.49,238.25 L207.72,238.24 L207.95,238.24 L208.18,238.24 L208.41,238.24 L208.64,238.23 L208.88,238.23 L209.11,238.23 L209.34,238.23 L209.57,238.23 L209.80,238.23 L210.03,238.23 L210.27,238.23 L210.50,238.23 L210.73,238.23 L210.96,238.24 L211.19,238.24 L212.41,238.25 L213.63,238.26 L214.86,238.27 L216.08,238.27 L217.30,238.28 L218.52,238.28 L219.74,238.27 L220.96,238.27 L222.18,238.28 L223.41,238.29 L224.63,238.31 L225.85,238.35 L227.07,238.40 L228.29,238.46 L229.51,238.53 L230.73,238.60 L231.96,238.67 L233.18,238.74 L234.40,238.80 L235.62,238.85 L236.84,238.89 L238.06,238.94 L239.28,238.98 L240.51,239.03 L241.73,239.08 L242.95,239.15 L244.17,239.22 L245.39,239.29 L246.61,239.37 L247.84,239.45 L249.06,239.53 L250.28,239.60 L251.50,239.67 L252.72,239.73 L253.94,239.78 L255.16,239.83 L256.39,239.88 L257.61,239.93 L258.83,239.98 L260.05,240.03 L261.27,240.08 L262.49,240.14 L263.71,240.19 L264.94,240.23 L266.16,240.28 L267.38,240.32 L268.60,240.35 L269.82,240.38 L271.04,240.41 L272.26,240.45 L273.49,240.48 L274.71,240.51 L275.93,240.55 L277.15,240.59 L278.37,240.63 L279.59,240.67 L280.81,240.71 L282.04,240.74 L283.26,240.77 L284.48,240.80 L285.70,240.82 L286.92,240.85 L288.14,240.87 L289.36,240.90 L290.59,240.93 L291.81,240.96 L293.03,240.99 L294.25,241.03 L295.47,241.07 L296.69,241.10 L297.91,241.13 L299.14,241.17 L300.36,241.20 L301.58,241.23 L302.80,241.26 L304.02,241.29 L305.24,241.33 L306.46,241.36 L307.69,241.40 L308.91,241.44 L310.13,241.47 L311.35,241.51 L312.57,241.54 L313.79,241.57 L315.01,241.59 L316.24,241.62 L317.46,241.64 L318.68,241.66 L319.90,241.68 L321.12,241.70 L322.34,241.73 L323.56,241.75 L324.79,241.78 L326.01,241.81 L327.23,241.84 L328.45,241.87 L329.67,241.89 L330.89,241.92 L332.11,241.94 L333.34,241.96 L334.56,241.98 L335.78,242.01 L337.00,242.03 L338.22,242.06 L339.44,242.08 L340.66,242.11 L341.89,242.13 L343.11,242.16 L344.33,242.18 L345.55,242.21 L346.77,242.23 L347.99,242.25 L349.21,242.28 L350.44,242.30 L351.66,242.33 L352.88,242.36 L354.10,242.38 L355.32,242.41 L356.54,242.44 L357.76,242.47 L358.99,242.50 L360.21,242.53 L361.43,242.56 L362.65,242.59 L363.87,242.62 L365.09,242.64 L366.31,242.67 L367.54,242.70 L368.76,242.73 L369.98,242.76 L371.20,242.79 L372.42,242.81 L373.64,242.84 L374.86,242.86 L376.09,242.88 L377.31,242.90 L378.53,242.92 L379.75,242.94 L380.97,242.96 L382.19,242.98 L383.41,243.01 L384.64,243.03 L385.86,243.06 L387.08,243.08 L388.30,243.11 L389.52,243.13 L390.74,243.15 L391.96,243.17 L393.19,243.19 L394.41,243.21 L395.63,243.23 L396.85,243.25 L398.07,243.27 L399.29,243.30 L400.51,243.32 L401.74,243.34 L402.96,243.37 L404.18,243.39 L405.40,243.41" stroke="#00c8c8" stroke-dasharray="6.6 3.9 2.3 3.8" stroke-dashoffset="12.8"/>
<!-- legend -->
<path class="cv" d="M354.6,24.95 H389.95" stroke="#0000ff"/>
<path class="cv" d="M354.6,48.15 H389.95" stroke="#ff0000" stroke-dasharray="8.3 2.07"/>
<path class="cv" d="M354.6,71.35 H389.95" stroke="#ff00ff" stroke-dasharray="1.2 1.34"/>
<path class="cv" d="M354.6,94.4 H389.95" stroke="#00c8c8" stroke-dasharray="6.6 3.9 2.3 3.8"/>
<g id="legtext">
<text transform="translate(326.7,29.8) scale(1.14,1)" class="it" font-size="18.4">E</text><text x="339.3" y="23.50" class="rm" font-size="12.3">2</text><text transform="translate(338.9,34.10) scale(1.27,1)" class="it" font-size="12.0">L</text>
<text transform="translate(326.7,53.0) scale(1.14,1)" class="it" font-size="18.4">E</text><text x="339.3" y="46.70" class="rm" font-size="12.3">2</text><text transform="translate(337.4,57.60) scale(1.25,1)" class="it" font-size="12.2">T</text>
<text transform="translate(326.1,76.1) scale(1.19,1)" class="it" font-size="18.4">B</text><text x="339.3" y="69.80" class="rm" font-size="12.3">2</text><text transform="translate(338.9,80.40) scale(1.27,1)" class="it" font-size="12.0">L</text>
<text transform="translate(326.1,99.3) scale(1.19,1)" class="it" font-size="18.4">B</text><text x="339.3" y="93.00" class="rm" font-size="12.3">2</text><text transform="translate(337.4,103.90) scale(1.25,1)" class="it" font-size="12.2">T</text>
</g>
<!-- x label -->
<text transform="translate(217.65,284.1) scale(1.02,1)" class="it" font-size="21.4">Q</text><text transform="translate(233.38,284.1) scale(1.47,1)" class="it" font-size="19.2">τ</text>
<!-- y label: rotated, origin at (19.6,206) reading upward -->
<g transform="translate(19.6,206) rotate(-90)">
<text transform="translate(-0.82,0) scale(1.02,1)" class="it" font-size="20.5">g</text>
<text transform="translate(8.97,-7.6) scale(1.05,1)" class="rm" font-size="13.6">2</text>
<text transform="translate(18.49,0) scale(1.16,1)" class="it" font-size="20.9">E</text>
<text transform="translate(32.67,-6.1) scale(1.05,1)" class="rm" font-size="13.6">2</text>
<path d="M16.60,-17.7 H40.75" stroke="#000" stroke-width="1.0"/>
<path d="M42.10,4.9 L49.40,-15.4" stroke="#000" stroke-width="0.9"/>
<text transform="translate(50.52,0) scale(1.02,1)" class="it" font-size="21">Q</text>
<text transform="translate(66.13,-7.6)" class="rm" font-size="13.6">4</text>
<text transform="translate(74.2,0) scale(0.85,1)" class="rm" font-size="21">,</text>
<text transform="translate(85.18,0) scale(1.02,1)" class="it" font-size="20.5">g</text>
<text transform="translate(94.97,-7.6) scale(1.05,1)" class="rm" font-size="13.6">2</text>
<text transform="translate(103.48,0) scale(1.173,1)" class="it" font-size="20.9">B</text>
<text transform="translate(118.57,-6.1) scale(1.05,1)" class="rm" font-size="13.6">2</text>
<path d="M102.70,-17.7 H126.70" stroke="#000" stroke-width="1.0"/>
<path d="M128.10,4.9 L135.40,-15.4" stroke="#000" stroke-width="0.9"/>
<text transform="translate(136.52,0) scale(1.02,1)" class="it" font-size="21">Q</text>
<text transform="translate(152.13,-7.6)" class="rm" font-size="13.6">4</text>
</g>
</svg>
</body></html>
